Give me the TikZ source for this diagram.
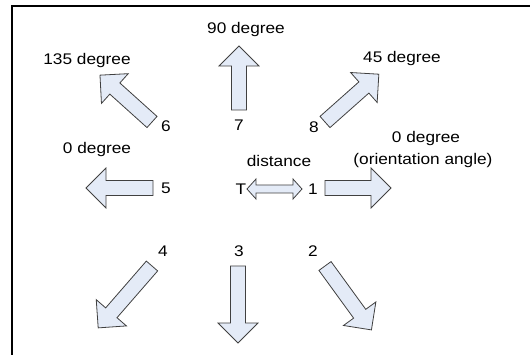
\documentclass[tikz,border=0pt]{standalone}
\usepackage{fontspec}
\setmainfont[FakeStretch=1.12]{Liberation Sans}
\definecolor{arrfill}{HTML}{E4EBF7}
\definecolor{arrdraw}{HTML}{404040}
\tikzset{
  arrowshape/.style={fill=arrfill, draw=arrdraw, line width=0.8pt, line join=miter},
  pics/fatarrow/.style={code={
    \draw[arrowshape] (0,-7.5) -- (#1-20,-7.5) -- (#1-20,-20) -- (#1,0) -- (#1-20,20) -- (#1-20,7.5) -- (0,7.5) -- cycle;
  }},
  lbl/.style={inner sep=0pt, font=\fontsize{15.4}{17}\selectfont}
}
\begin{document}
\begin{tikzpicture}[x=1pt,y=-1pt]
\useasboundingbox (0,0) rectangle (530,355);
\fill[white] (0,0) rectangle (530,355);
\coordinate (fTR) at (530,6);
\coordinate (fTL) at (12,6);
\coordinate (fBL) at (12,355);
\draw[line width=2.5pt] (fTR) -- (fTL) -- (fBL);

% arrows
\pic[rotate=90]  at (239,110) {fatarrow=64};
\pic[rotate=138] at (152,122) {fatarrow=70};
\pic[rotate=41.6] at (325,122) {fatarrow=72};
\pic[rotate=180] at (153,188) {fatarrow=67};
\pic[rotate=0]   at (325,188) {fatarrow=66};
\pic[rotate=229] at (152,266) {fatarrow=82};
\pic[rotate=-90] at (238,266) {fatarrow=77};
\pic[rotate=-54] at (325,266) {fatarrow=79};

% double arrow (distance)
\draw[arrowshape] (247,189) -- (256,179) -- (256,185) -- (293,185) -- (293,179) -- (302,189)
  -- (293,199) -- (293,193) -- (256,193) -- (256,199) -- cycle;

% labels
\node[lbl] (t90) at (246,30) {90 degree};
\node[lbl] (t135) at (87,61) {135 degree};
\node[lbl] (t45) at (402,59) {45 degree};
\node[lbl] (t0l) at (97,150) {0 degree};
\node[lbl] (t0r) at (426,139) {0 degree};
\node[lbl] (tor) at (423,161) {(orientation angle)};
\node[lbl] (tdist) at (279,161) {distance};
\node[lbl] (n6) at (166,126) {6};
\node[lbl] (n7) at (239,125) {7};
\node[lbl] (n8) at (314,127) {8};
\node[lbl] (n5) at (166,188) {5};
\node[lbl] (nT) at (241,189) {T};
\node[lbl] (n1) at (313,189) {1};
\node[lbl] (n4) at (163,251) {4};
\node[lbl] (n3) at (239,251) {3};
\node[lbl] (n2) at (313,251) {2};
\end{tikzpicture}
\end{document}
